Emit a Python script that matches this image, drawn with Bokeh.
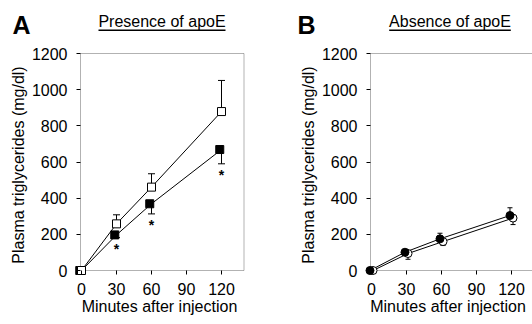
from bokeh.plotting import figure
from bokeh.layouts import row, column
from bokeh.models import (ColumnDataSource, Whisker, TeeHead, Label, BoxAnnotation,
                          FixedTicker, Range1d)
from bokeh.transform import dodge
from bokeh.core.properties import value
from bokeh.embed import file_html
from bokeh.resources import INLINE

# ---------------- data ----------------
minutes = [0, 30, 60, 120]
x_ticks = [0, 30, 60, 90, 120]
y_ticks = [0, 200, 400, 600, 800, 1000, 1200]

# Panel A: presence of apoE
a_open_mean = [0, 258, 461, 879]
a_open_sem = [0, 50, 74, 172]
a_filled_mean = [0, 197, 369, 669]
a_filled_sem = [0, 15, 56, 79]
a_signif = ["", "*", "*", "*"]

# Panel B: absence of apoE
b_filled_mean = [0, 101, 175, 304]
b_filled_sem = [0, 10, 31, 43]
b_open_mean = [0, 94, 160, 290]
b_open_sem = [0, 32, 22, 36]

panel_letters = ["A", "B"]
panel_titles = ["Presence of apoE", "Absence of apoE"]
x_title = "Minutes after injection"
y_title = "Plasma triglycerides (mg/dl)"

FONT = "Liberation Sans"
PX_PER_MIN = 35 / 30.0
PX_PER_UNIT = 217 / 1200.0
PAD = 7          # px of free room left of / below the axes
HEADER_H = 45
PLOT_H = 324 - HEADER_H
TOP = 7          # frame top inside the plot figure (1 px above the 1200 line)
TICK = 4
W_A, W_B = 262, 270


def make_fig(width, axis_left, box_right, right):
    left = axis_left - PAD
    frame_w = width - left - right
    x0 = -1 / PX_PER_MIN                      # data x of the y-axis line
    xs = x0 - PAD / PX_PER_MIN
    xe = xs + frame_w / PX_PER_MIN
    xbox = x0 + (box_right - axis_left) / PX_PER_MIN
    ys = -PAD / PX_PER_UNIT
    ye = 1200 + 1 / PX_PER_UNIT
    frame_h = 217 + PAD + 1
    p = figure(width=width, height=PLOT_H, output_backend="svg", toolbar_location=None,
               x_range=Range1d(xs, xe), y_range=Range1d(ys, ye),
               min_border_left=left, min_border_right=right,
               min_border_top=TOP, min_border_bottom=PLOT_H - TOP - frame_h)
    p.background_fill_color = "white"
    p.border_fill_color = "white"
    p.xgrid.grid_line_color = None
    p.ygrid.grid_line_color = None
    p.outline_line_color = None
    p.xaxis.ticker = FixedTicker(ticks=x_ticks)
    p.yaxis.ticker = FixedTicker(ticks=y_ticks)
    for ax in (p.xaxis[0], p.yaxis[0]):
        ax.axis_line_color = None
        ax.major_tick_line_color = "black"
        ax.major_tick_line_width = 1
        ax.major_tick_in = PAD
        ax.major_tick_out = TICK - PAD
        ax.minor_tick_line_color = None
        ax.major_label_text_font = FONT
        ax.major_label_text_font_size = "16px"
        ax.major_label_text_color = "black"
        ax.axis_label_text_font = FONT
        ax.axis_label_text_font_size = "16px"
        ax.axis_label_text_font_style = "normal"
        ax.axis_label_text_color = "black"
    p.xaxis.axis_label = x_title
    p.yaxis.axis_label = y_title
    p.xaxis.major_label_standoff = 5
    p.xaxis.axis_label_standoff = 0
    p.yaxis.major_label_standoff = 6
    p.yaxis.axis_label_standoff = 2
    # plot box: axis lines at x0 / 0, top at 1200
    p.add_layout(BoxAnnotation(left=x0, right=xbox, bottom=0, top=1200,
                               fill_color=None, fill_alpha=0, line_color="black",
                               line_width=1, level="underlay"))
    return p


# ---------------- header (panel letters and underlined titles) ----------------
header = figure(width=W_A + W_B, height=HEADER_H, output_backend="svg",
                toolbar_location=None, x_range=Range1d(0, W_A + W_B),
                y_range=Range1d(0, HEADER_H), min_border=0,
                x_axis_type=None, y_axis_type=None)
header.outline_line_color = None
header.xgrid.grid_line_color = None
header.ygrid.grid_line_color = None
header.background_fill_color = "white"
header.border_fill_color = "white"
letter_x = [12, W_A + 35]
title_cx = [161.5, 449.5]
underline = [(98, 225), (388.7, 510.3)]
for letter, lx, title, tx, (ul0, ul1) in zip(panel_letters, letter_x, panel_titles,
                                            title_cx, underline):
    header.add_layout(Label(x=lx, y=HEADER_H - 24.3, text=letter,
                            text_font=FONT, text_font_size="25px", text_font_style="bold",
                            text_baseline="middle", text_align="left",
                            text_color="black"))
    header.add_layout(Label(x=tx, y=HEADER_H - 20.9, text=title,
                            text_font=FONT, text_font_size="16px",
                            text_baseline="middle", text_align="center",
                            text_color="black"))
    header.add_layout(BoxAnnotation(left=ul0, right=ul1,
                                    top=HEADER_H - 29, bottom=HEADER_H - 30.5,
                                    fill_color="black", fill_alpha=1, line_color=None))

# ---------------- panel A ----------------
pa = make_fig(W_A, 80, 243.5, 17)

src_ao = ColumnDataSource(dict(x=minutes, y=a_open_mean,
                               up=[m + s for m, s in zip(a_open_mean, a_open_sem)]))
src_af = ColumnDataSource(dict(x=minutes, y=a_filled_mean,
                               lo=[m - s for m, s in zip(a_filled_mean, a_filled_sem)],
                               sig=a_signif))

pa.line("x", "y", source=src_ao, line_color="black", line_width=1)
pa.line("x", "y", source=src_af, line_color="black", line_width=1)
pa.add_layout(Whisker(base="x", lower="y", upper="up", source=src_ao, level="underlay",
                      line_color="black", line_width=1,
                      upper_head=TeeHead(size=7, line_color="black", line_width=1),
                      lower_head=None))
pa.add_layout(Whisker(base="x", lower="lo", upper="y", source=src_af, level="underlay",
                      line_color="black", line_width=1,
                      lower_head=TeeHead(size=7, line_color="black", line_width=1),
                      upper_head=None))
pa.scatter(dodge("x", -1.5, range=pa.x_range), "y", source=src_af, marker="square",
           size=8, fill_color="black", line_color="black")
pa.scatter("x", "y", source=src_ao, marker="square", size=8, fill_color="white",
           line_color="black", line_width=1)
pa.text("x", "lo", text="sig", source=src_af, text_font=value(FONT), text_font_size="14px",
        text_font_style="bold", text_align="center", text_baseline="top", y_offset=3,
        text_color="black")

# ---------------- panel B ----------------
pb = make_fig(W_B, 108, 290, 0)

src_bf = ColumnDataSource(dict(x=minutes, y=b_filled_mean,
                               up=[m + s for m, s in zip(b_filled_mean, b_filled_sem)]))
src_bo = ColumnDataSource(dict(x=minutes, y=b_open_mean,
                               lo=[m - s for m, s in zip(b_open_mean, b_open_sem)]))
xf = dodge("x", -1.3, range=pb.x_range)
xo = dodge("x", 1.3, range=pb.x_range)

pb.line(xo, "y", source=src_bo, line_color="black", line_width=1)
pb.line(xf, "y", source=src_bf, line_color="black", line_width=1)
pb.add_layout(Whisker(base=xo, lower="lo", upper="y", source=src_bo, level="underlay",
                      line_color="black", line_width=1,
                      lower_head=TeeHead(size=5, line_color="black", line_width=1),
                      upper_head=None))
pb.add_layout(Whisker(base=xf, lower="y", upper="up", source=src_bf, level="underlay",
                      line_color="black", line_width=1,
                      upper_head=TeeHead(size=5, line_color="black", line_width=1),
                      lower_head=None))
pb.scatter(xo, "y", source=src_bo, marker="circle", size=8, fill_color="white",
           line_color="black", line_width=1)
pb.scatter(xf, "y", source=src_bf, marker="circle", size=8, fill_color="black",
           line_color="black")

layout = column(header, row(pa, pb, spacing=0), spacing=0)
open("out.html", "w").write(file_html(layout, INLINE))
